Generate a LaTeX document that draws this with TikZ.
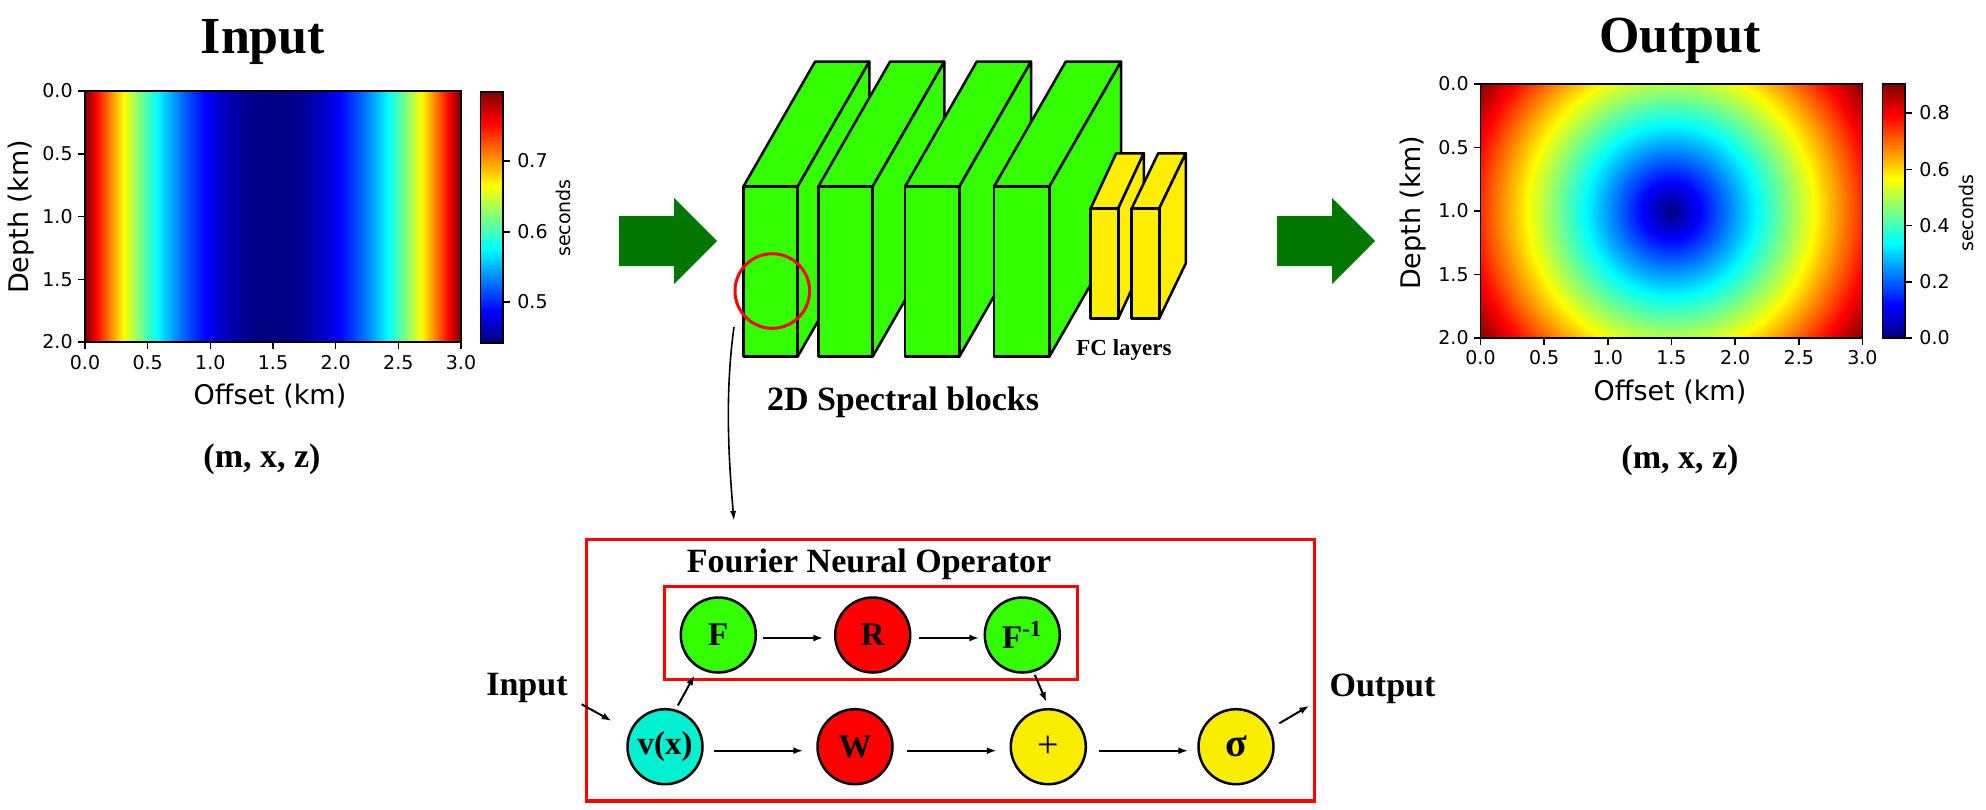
\documentclass[tikz,border=0pt]{standalone}
\usepackage{fontspec}
\setmainfont{Liberation Serif}
\newfontfamily\mplfont{DejaVu Sans}
\usetikzlibrary{arrows.meta,calc}

\definecolor{blkgreen}{RGB}{51,255,0}
\definecolor{blkyellow}{RGB}{255,238,0}
\definecolor{arrgreen}{RGB}{0,120,0}
\definecolor{vcyan}{RGB}{0,240,210}
\definecolor{cyell}{RGB}{250,238,0}

\newcommand\jetset[2]{%
 \pgfmathsetmacro\jr{max(0,min(1,1.5-abs(4*#2-3)))}%
 \pgfmathsetmacro\jg{max(0,min(1,1.5-abs(4*#2-2)))}%
 \pgfmathsetmacro\jb{max(0,min(1,1.5-abs(4*#2-1)))}%
 \definecolor{#1}{rgb}{\jr,\jg,\jb}}

% x0, ytop, width, height, depth-dx, depth-up, colour
\newcommand\drawslab[7]{%
 \filldraw[slab, fill=#7] (#1,#2) -- ++(#5,-#6) -- ++(#3,0) -- ++(-#5,#6) -- cycle;
 \filldraw[slab, fill=#7] (#1+#3,#2) -- ++(#5,-#6) -- ++(0,#4) -- ++(-#5,#6) -- cycle;
 \filldraw[slab, fill=#7] (#1,#2) rectangle ++(#3,#4);}

\tikzset{
 ticklab/.style={font=\mplfont\fontsize{9.5pt}{11pt}\selectfont, inner sep=0pt},
 axlab/.style={font=\mplfont\fontsize{13.5pt}{16pt}\selectfont, inner sep=0pt},
 cblab/.style={font=\mplfont\fontsize{9.5pt}{11pt}\selectfont, inner sep=0pt},
 bigtitle/.style={font=\bfseries\fontsize{26pt}{30pt}\selectfont, inner sep=0pt},
 boldlab/.style={font=\bfseries\fontsize{17pt}{20pt}\selectfont, inner sep=0pt},
 axframe/.style={draw=black, line width=0.75pt},
 tickmark/.style={line width=0.75pt},
 slab/.style={draw=black, line width=1.25pt, line join=round},
 opnode/.style={circle, draw=black, line width=1.25pt, minimum size=37.5pt, inner sep=0pt,
   font=\bfseries\fontsize{16.5pt}{19pt}\selectfont},
 arr/.style={-{Latex[length=5pt,width=3.5pt]}, line width=1pt},
 redbox/.style={draw=red, line width=1.65pt, inner sep=0pt, outer sep=0pt},
}

\begin{document}
\begin{tikzpicture}[x=0.5pt,y=-0.5pt]
\useasboundingbox (0,0) rectangle (1986,809);

%================ INPUT PLOT =================
\node[bigtitle, anchor=base] (intitle) at (263,53) {Input};
\begin{scope}
 \clip (85,91) rectangle (461,342);
 \foreach \i in {0,...,187}{
   \pgfmathsetmacro\jv{((\i+0.5)/94-1)*((\i+0.5)/94-1)}
   \jetset{hc}{\jv}
   \fill[hc] (85+2*\i,91) rectangle (85+2*\i+2.7,342);
 }
\end{scope}
\draw[axframe] (85,91) rectangle (461,342);
\foreach \k/\lab in {0/0.0,1/0.5,2/1.0,3/1.5,4/2.0,5/2.5,6/3.0}{
  \draw[tickmark] ({85+62.667*\k},342) -- ++(0,7);
  \node[ticklab] (ixt\k) at ({85+62.667*\k},363) {\lab};
}
\foreach \k/\lab in {0/0.0,1/0.5,2/1.0,3/1.5,4/2.0}{
  \draw[tickmark] (85,{91+62.75*\k}) -- ++(-7,0);
  \node[ticklab, anchor=east] (iyt\k) at (73,{91+62.75*\k}) {\lab};
}
\node[axlab, rotate=90] (iylab) at (21,217) {Depth (km)};
\node[axlab] (ixlab) at (270,396.5) {Offset (km)};
% colorbar
\begin{scope}
 \clip (480.7,92) rectangle (503,343);
 \foreach \i in {0,...,99}{
   \pgfmathsetmacro\jv{1-(\i+0.5)/100}
   \jetset{hc}{\jv}
   \fill[hc] (480.7,92+2.51*\i) rectangle (503,92+2.51*\i+3.2);
 }
\end{scope}
\draw[axframe] (480.7,92) rectangle (503,343);
\foreach \yy/\lab in {161/0.7,232/0.6,302/0.5}{
  \draw[tickmark] (503,\yy) -- ++(7,0);
  \node[ticklab, anchor=west] (icb\lab) at (517,\yy) {\lab};
}
\node[cblab, rotate=90] (isec) at (563,218) {seconds};
\node[boldlab, anchor=base] (imxz) at (262,467.7) {(m, x, z)};

%================ BIG ARROWS =================
\fill[arrgreen] (619,216) -- (674,216) -- (674,198) -- (717,241) -- (674,284) -- (674,266) -- (619,266) -- cycle;
\begin{scope}[shift={(658,0)}]
\fill[arrgreen] (619,216) -- (674,216) -- (674,198) -- (717,241) -- (674,284) -- (674,266) -- (619,266) -- cycle;
\end{scope}

%================ BLOCKS =================
\drawslab{743.3}{186.7}{54.3}{170}{71.7}{125}{blkgreen}
\drawslab{818.3}{186.7}{54.3}{170}{71.7}{125}{blkgreen}
\drawslab{905}{186.7}{54.3}{170}{71.7}{125}{blkgreen}
\drawslab{994}{186.7}{55.3}{170}{71.7}{125}{blkgreen}
\drawslab{1090.7}{208.3}{27.6}{110}{25.5}{55}{blkyellow}
\drawslab{1131.7}{208.3}{27.6}{110}{26.5}{55}{blkyellow}
\node[font=\bfseries\fontsize{11.5pt}{13pt}\selectfont, anchor=base, inner sep=0pt] (fclab) at (1124,355) {FC layers};
\node[boldlab, anchor=base] (spec) at (903,410) {2D Spectral blocks};
\node[circle, draw=red, line width=1.5pt, minimum size=37.3pt, inner sep=0pt] (zoomc) at (772.3,291) {};

%================ OUTPUT PLOT =================
\node[bigtitle, anchor=base] (outtitle) at (1680,52) {Output};
\begin{scope}
 \clip (1480.5,84) rectangle (1862.4,338);
 \foreach \i in {116,...,1}{
   \pgfmathsetmacro\jv{min(1,(2*\i-1)/229.4)}
   \jetset{hc}{\jv}
   \fill[hc] (1671.45,211) circle (2*\i);
 }
\end{scope}
\draw[axframe] (1480.5,84) rectangle (1862.4,338);
\foreach \k/\lab in {0/0.0,1/0.5,2/1.0,3/1.5,4/2.0,5/2.5,6/3.0}{
  \draw[tickmark] ({1480.5+63.65*\k},338) -- ++(0,7);
  \node[ticklab] (oxt\k) at ({1480.5+63.65*\k},358) {\lab};
}
\foreach \k/\lab in {0/0.0,1/0.5,2/1.0,3/1.5,4/2.0}{
  \draw[tickmark] (1480.5,{84+63.5*\k}) -- ++(-7,0);
  \node[ticklab, anchor=east] (oyt\k) at (1469,{84+63.5*\k}) {\lab};
}
\node[axlab, rotate=90] (oylab) at (1413,213) {Depth (km)};
\node[axlab] (oxlab) at (1670,392) {Offset (km)};
\begin{scope}
 \clip (1882.5,84) rectangle (1905,338);
 \foreach \i in {0,...,99}{
   \pgfmathsetmacro\jv{1-(\i+0.5)/100}
   \jetset{hc}{\jv}
   \fill[hc] (1882.5,84+2.54*\i) rectangle (1905,84+2.54*\i+3.2);
 }
\end{scope}
\draw[axframe] (1882.5,84) rectangle (1905,338);
\foreach \yy/\lab in {113/0.8,169.3/0.6,225.7/0.4,282/0.2,338/0.0}{
  \draw[tickmark] (1905,\yy) -- ++(7,0);
  \node[ticklab, anchor=west] (ocb\lab) at (1919,\yy) {\lab};
}
\node[cblab, rotate=90] (osec) at (1966,213) {seconds};
\node[boldlab, anchor=base] (omxz) at (1680,468) {(m, x, z)};

%================ FNO DIAGRAM =================
\node[redbox, minimum width=363.8pt, minimum height=130.85pt] (fno) at (950.5,670.15) {};
\node[redbox, minimum width=206.5pt, minimum height=46.5pt] (inner) at (870.8,633.2) {};
\node[boldlab, anchor=base] (fnotitle) at (869,572.7) {Fourier Neural Operator};

\node[opnode, fill=blkgreen] (F) at (718.3,635) {F};
\node[opnode, fill=red] (R) at (872.7,635) {R};
\node[opnode, fill=blkgreen] (Fi) at (1022.3,635) {F\textsuperscript{-1}};
\node[opnode, fill=vcyan] (v) at (665,746.7) {v(x)};
\node[opnode, fill=red] (W) at (855,746.7) {W};
\node[opnode, fill=cyell, font=\mdseries\fontsize{19pt}{21pt}\selectfont] (plus) at (1048.3,746.7) {+};
\node[opnode, fill=cyell, font=\bfseries\fontsize{20pt}{22pt}\selectfont] (sig) at (1236,746.7) {σ};

\node[boldlab, anchor=base] (inlab) at (527,695) {Input};
\node[boldlab, anchor=base] (outlab) at (1382.5,696) {Output};

\draw[arr, shorten <=3.15pt, shorten >=5.3pt] ([yshift=-1.5pt]F.east) -- ([yshift=-1.5pt]R.west);
\draw[arr, shorten <=3.9pt, shorten >=2.1pt] ([yshift=-1.5pt]R.east) -- ([yshift=-1.5pt]Fi.west);
\draw[arr, shorten <=5.1pt, shorten >=6.5pt] ([yshift=-2pt]v.east) -- ([yshift=-2pt]W.west);
\draw[arr, shorten <=6.5pt, shorten >=6.4pt] ([yshift=-2pt]W.east) -- ([yshift=-2pt]plus.west);
\draw[arr, shorten <=6.1pt, shorten >=4.5pt] ([yshift=-2pt]plus.east) -- ([yshift=-2pt]sig.west);
\draw[arr, shorten <=2.25pt, shorten >=4pt] (v.74) -- (F.239);
\draw[arr, shorten <=1.5pt, shorten >=3.2pt] (Fi.287) -- (plus.89);
\draw[arr] ($(v.center)+(-83.3,-42.4)$) -- ($(v.center)+(-53.3,-25.7)$);
\draw[arr] ($(sig.center)+(43.3,-23.4)$) -- ($(sig.center)+(73.3,-41)$);

% zoom connector
\draw[line width=0.8pt, -{Latex[length=5pt,width=3pt]}]
  ($(zoomc.center)+(-38.3,36)$) .. controls (725,392) and (728.3,456) .. ($(fno.north west)+(147.3,-18.3)$);
\end{tikzpicture}
\end{document}
